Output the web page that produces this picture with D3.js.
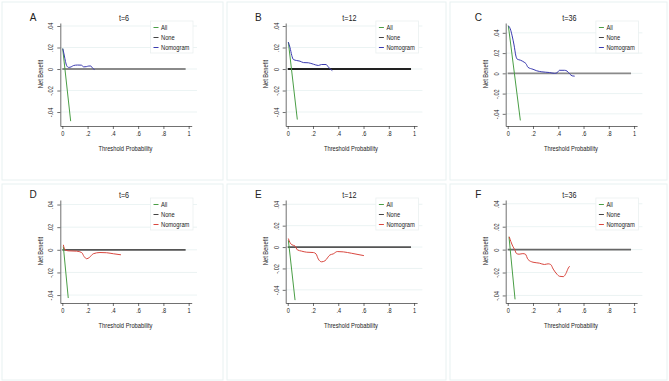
<!DOCTYPE html>
<html>
<head>
<meta charset="utf-8">
<script src="https://cdn.jsdelivr.net/npm/d3@7"></script>
<style>
  body { margin: 0; background: #fff; }
  text { font-family: "Liberation Sans", Arial, sans-serif; fill: #222; }
</style>
</head>
<body>
<div id="chart"></div>
<script>
// panel labels and titles
const panelLetters = ["A", "B", "C", "D", "E", "F"];
const panelTitles = ["t=6", "t=12", "t=36", "t=6", "t=12", "t=36"];
const legendLabels = ["All", "None", "Nomogram"];

const xTicks = [0, 0.2, 0.4, 0.6, 0.8, 1];
const xTickLabels = ["0", ".2", ".4", ".6", ".8", "1"];
const yTicks = [-0.04, -0.02, 0, 0.02, 0.04];
const yTickLabels = ["-.04", "-.02", "0", ".02", ".04"];

// y axis range of each panel
const yDomains = [
  [-0.053, 0.0428], [-0.053, 0.0428], [-0.052, 0.0497],
  [-0.047, 0.044], [-0.0523, 0.044], [-0.0466, 0.0433]
];

// treat-none line
const noneLine = [[0, 0], [0.976, 0]];

// treat-all lines
const allA = [[0.003, 0.019], [0.066, -0.0485]];
const allB = [[0.005, 0.025], [0.076, -0.047]];
const allC = [[0.005, 0.047], [0.1, -0.0465]];
const allD = [[0.008, 0.003], [0.047, -0.0426]];
const allE = [[0.005, 0.0064], [0.058, -0.0496]];
const allF = [[0.01, 0.0112], [0.058, -0.0434]];

// nomogram curves
const nomoA = [[0.004, 0.019], [0.015, 0.013], [0.025, 0.007], [0.035, 0.003], [0.05, 0.0015],
  [0.07, 0.002], [0.09, 0.0033], [0.12, 0.0037], [0.15, 0.0036], [0.17, 0.002], [0.19, 0.0022],
  [0.21, 0.0028], [0.225, 0.0028], [0.24, 0.0008], [0.255, -0.0005]];
const nomoB = [[0.005, 0.025], [0.018, 0.02], [0.032, 0.0127], [0.045, 0.0088], [0.071, 0.0079],
  [0.097, 0.0073], [0.124, 0.006], [0.163, 0.0058], [0.203, 0.0045], [0.242, 0.0033],
  [0.268, 0.0042], [0.303, 0.0042], [0.321, 0.002], [0.34, -0.0003], [0.353, -0.0015]];
const nomoC = [[0.005, 0.047], [0.02, 0.044], [0.035, 0.037], [0.05, 0.028], [0.065, 0.017],
  [0.075, 0.014], [0.1, 0.013], [0.13, 0.011], [0.145, 0.0095], [0.16, 0.006], [0.2, 0.004],
  [0.23, 0.0025], [0.27, 0.0015], [0.33, 0.0008], [0.37, 0], [0.39, 0.0005], [0.41, 0.003],
  [0.45, 0.003], [0.47, 0.0022], [0.49, -0.0005], [0.51, -0.0025], [0.53, -0.0028]];
const nomoD = [[0.008, 0.0044], [0.021, 0], [0.047, -0.0009], [0.113, -0.0012], [0.153, -0.0024],
  [0.172, -0.0059], [0.193, -0.0079], [0.214, -0.0068], [0.245, -0.0035], [0.298, -0.0024],
  [0.351, -0.0026], [0.404, -0.0035], [0.464, -0.0044]];
const nomoE = [[0.005, 0.008], [0.018, 0.0042], [0.032, 0.0022], [0.058, 0.001], [0.076, -0.0026],
  [0.11, -0.0038], [0.15, -0.0048], [0.203, -0.0051], [0.224, -0.0064], [0.242, -0.0112],
  [0.268, -0.0138], [0.295, -0.0128], [0.334, -0.0074], [0.36, -0.0064], [0.392, -0.0042],
  [0.44, -0.0045], [0.505, -0.0058], [0.603, -0.008]];
const nomoF = [[0.012, 0.0112], [0.025, 0.007], [0.04, 0.003], [0.055, 0], [0.07, -0.0035],
  [0.09, -0.004], [0.12, -0.0035], [0.14, -0.004], [0.16, -0.0085], [0.2, -0.011], [0.25, -0.0118],
  [0.29, -0.013], [0.32, -0.0124], [0.34, -0.013], [0.36, -0.017], [0.39, -0.0215], [0.41, -0.0233],
  [0.44, -0.0236], [0.46, -0.021], [0.48, -0.016], [0.49, -0.0145]];

const allSeries = [allA, allB, allC, allD, allE, allF];
const nomoSeries = [nomoA, nomoB, nomoC, nomoD, nomoE, nomoF];

// styles
const colOrigins = [0, 225.4, 445.4];
const rowOrigins = [0, 177];
const allColor = "#4a9e46";
const nomoColors = ["#3b3bb0", "#3b3bb0", "#3b3bb0", "#d9473f", "#d9473f", "#d9473f"];
const noneColors = ["#8a8a8a", "#222", "#8a8a8a", "#555", "#555", "#666"];
const squeeze = 0.8; // the original uses a narrow face

const W = 669, H = 381;
const svg = d3.select("#chart").append("svg")
  .attr("width", W).attr("height", H);

// narrow text placed at x,y (optionally rotated)
function label(g, x, y, txt, size, rot) {
  return g.append("text")
    .attr("transform", `translate(${x},${y})${rot ? ` rotate(${rot})` : ""} scale(${squeeze},1)`)
    .attr("text-anchor", "middle")
    .style("font-size", size + "px")
    .text(txt);
}

// faint panel frames
const frameX = [[2, 223], [227, 446], [450, 667]];
const frameY = [[2, 180], [184, 380]];
frameY.forEach(fy => frameX.forEach(fx => {
  svg.append("rect")
    .attr("x", fx[0]).attr("y", fy[0])
    .attr("width", fx[1] - fx[0]).attr("height", fy[1] - fy[0])
    .attr("fill", "none").attr("stroke", "#e8f1f1").attr("stroke-width", 1);
}));

panelLetters.forEach((letter, i) => {
  const g = svg.append("g")
    .attr("transform", `translate(${colOrigins[i % 3]}, ${rowOrigins[Math.floor(i / 3)]})`);

  const x = d3.scaleLinear().domain([-0.016, 1.024]).range([60.3, 191.7]);
  const y = d3.scaleLinear().domain(yDomains[i]).range([126, 23]);

  // grid
  g.selectAll(".grid")
    .data(yTicks)
    .join("line")
    .attr("x1", 60.3).attr("x2", 197)
    .attr("y1", d => y(d)).attr("y2", d => y(d))
    .attr("stroke", "#e6f0f0").attr("stroke-width", 0.8);

  // axes
  const xAxis = d3.axisBottom(x).tickValues(xTicks)
    .tickFormat((d, k) => xTickLabels[k]).tickSize(3).tickSizeOuter(0).tickPadding(2);
  const gx = g.append("g").attr("transform", "translate(0,126)").call(xAxis);
  gx.selectAll("text").style("font-size", "7px").attr("fill", "#222")
    .attr("transform", `scale(${squeeze},1)`);

  const yAxis = d3.axisLeft(y).tickValues(yTicks)
    .tickFormat((d, k) => yTickLabels[k]).tickSize(3).tickSizeOuter(0).tickPadding(2);
  const gy = g.append("g").attr("transform", "translate(60.3,0)").call(yAxis);
  gy.selectAll("text")
    .style("font-size", "7px")
    .attr("transform", `rotate(-90) scale(${squeeze},1)`)
    .attr("x", 0).attr("dx", 0).attr("dy", 0)
    .attr("y", -7)
    .style("text-anchor", "middle");
  [gx, gy].forEach(a => {
    a.selectAll("path,line").attr("stroke", "#333").attr("stroke-width", 0.7);
  });

  // axis titles
  label(g, 125.5, 150.5, "Threshold Probability", 7.2);
  label(g, 42.5, 74, "Net Benefit", 7.2, -90);

  // letter and title
  g.append("text")
    .attr("x", 33).attr("y", 21)
    .attr("text-anchor", "middle")
    .style("font-size", "10px")
    .text(letter);
  label(g, 124, 20.5, panelTitles[i], 9);

  const line = d3.line().x(d => x(d[0])).y(d => y(d[1]));
  const curve = d3.line().x(d => x(d[0])).y(d => y(d[1])).curve(d3.curveMonotoneX);

  g.append("path").datum(noneLine).attr("d", line)
    .attr("fill", "none").attr("stroke", noneColors[i]).attr("stroke-width", 1.8);
  g.append("path").datum(allSeries[i]).attr("d", line)
    .attr("fill", "none").attr("stroke", allColor).attr("stroke-width", 1);
  g.append("path").datum(nomoSeries[i]).attr("d", curve)
    .attr("fill", "none").attr("stroke", nomoColors[i]).attr("stroke-width", 1);

  // legend
  const lg = g.append("g").attr("transform", "translate(150.5,21)");
  lg.append("rect")
    .attr("width", 42.5).attr("height", 32)
    .attr("fill", "#fff").attr("stroke", "#eaf0f0").attr("stroke-width", 0.8);
  const legendColors = [allColor, "#444", nomoColors[i]];
  legendLabels.forEach((lab, k) => {
    const ly = 6.5 + k * 10;
    lg.append("line")
      .attr("x1", 3).attr("x2", 8).attr("y1", ly).attr("y2", ly)
      .attr("stroke", legendColors[k]).attr("stroke-width", 1);
    label(lg, 10.5, ly + 2.5, lab, 7.2).attr("text-anchor", "start");
  });
});
</script>
</body>
</html>
